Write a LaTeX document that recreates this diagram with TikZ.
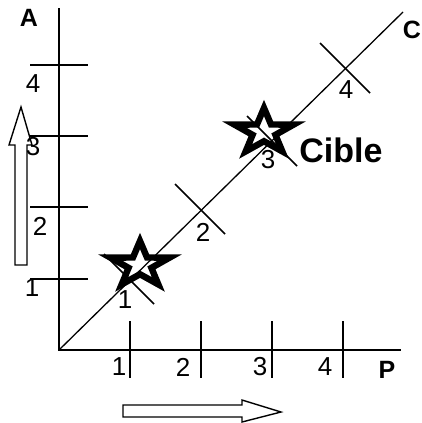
\documentclass[tikz,border=0pt]{standalone}
\usepackage{fontspec}
\setmainfont{Liberation Sans}
\usetikzlibrary{shapes.geometric,calc}

\begin{document}
\begin{tikzpicture}[
  x=0.5pt, y=-0.5pt,
  axis/.style={line width=0.8pt},
  tick/.style={line width=0.8pt},
  num/.style={inner sep=0pt, font=\fontsize{13}{15}\selectfont},
  lbl/.style={inner sep=0pt, font=\fontsize{12.5}{15}\selectfont\bfseries},
  target/.style={star, star points=5, star point ratio=2.6, minimum size=24pt,
    inner sep=0pt, draw, fill=white, line width=3.2pt, xscale=1.3},
  hollow/.style={line width=0.7pt, line join=miter}
]
\useasboundingbox (0,0) rectangle (422,423);

% stars first, lines run over them
\node[target] (star1) at (140,265) {};
\node[target] (star3) at (264,132) {};

% axes
\coordinate (O) at (59,350);
\coordinate (Atop) at (59,8);
\coordinate (Pend) at (401,350);
\coordinate (Cend) at (403,12);
\draw[axis] (Atop) -- (O) -- (Pend);
\draw[axis, line width=0.65pt] (O) -- (Cend);

% ticks on A
\draw[tick] (30,279) -- (88,279);
\draw[tick] (30,207) -- (88,207);
\draw[tick] (30,136) -- (88,136);
\draw[tick] (30,65) -- (88,65);

% ticks on P
\draw[tick] (130,321) -- (130,378);
\draw[tick] (201,321) -- (201,378);
\draw[tick] (272,321) -- (272,378);
\draw[tick] (343,321) -- (343,378);

% ticks on C
\coordinate (d1) at (129,279);
\coordinate (d2) at (200,209);
\coordinate (d3) at (272,141);
\coordinate (d4) at (345,68);
\draw[tick] ($(d1)+(-25,-25)$) -- ($(d1)+(25,25)$);
\draw[tick] ($(d2)+(-25,-25)$) -- ($(d2)+(25,25)$);
\draw[tick] ($(d3)+(-25,-25)$) -- ($(d3)+(25,25)$);
\draw[tick] ($(d4)+(-25,-25)$) -- ($(d4)+(25,25)$);

% labels
\node[lbl] (labA) at (29,18) {A};
\node[lbl] (labP) at (387,370) {P};
\node[lbl] (labC) at (412,30) {C};
\node[lbl, font=\fontsize{17}{20}\selectfont\bfseries] (cible) at (341,150) {Cible};

\node[num] (a1) at (32,288) {1};
\node[num] (a2) at (40,226) {2};
\node[num] (a3) at (33,147) {3};
\node[num] (a4) at (33,84) {4};

\node[num] (p1) at (119,367) {1};
\node[num] (p2) at (183,367) {2};
\node[num] (p3) at (260,367) {3};
\node[num] (p4) at (325,367) {4};

\node[num] (c1) at (125,300) {1};
\node[num] (c2) at (203,232) {2};
\node[num] (c3) at (268,160) {3};
\node[num] (c4) at (346,90) {4};

% hollow arrows
\draw[hollow] (15,265) -- (15,145) -- (9,145) -- (21,107) -- (32,145)
  -- (27,145) -- (27,265) -- cycle;
\draw[hollow] (123,405) -- (242,405) -- (242,400) -- (281,412) -- (242,422)
  -- (242,417) -- (123,417) -- cycle;
\end{tikzpicture}
\end{document}
